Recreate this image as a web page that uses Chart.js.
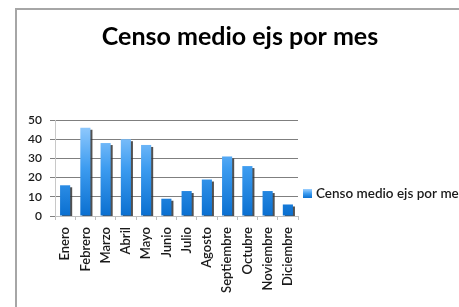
<!DOCTYPE html>
<html>
<head>
<meta charset="utf-8">
<script src="https://cdn.jsdelivr.net/npm/chart.js@4.4.0/dist/chart.umd.min.js"></script>
<style>
  html, body { margin: 0; padding: 0; background: #fff; }
  #wrap { position: relative; width: 459px; height: 307px; }
</style>
</head>
<body>
<div id="wrap"><canvas id="censoChart" width="459" height="307"></canvas></div>
<script>
// Datos del grafico
const titulo = 'Censo medio ejs por mes';
const meses = ['Enero', 'Febrero', 'Marzo', 'Abril', 'Mayo', 'Junio', 'Julio', 'Agosto', 'Septiembre', 'Octubre', 'Noviembre', 'Diciembre'];
const censo = [16, 46, 38, 40, 37, 9, 13, 19, 31, 26, 13, 6];
const yMin = 0;
const yMax = 50;
const yPaso = 10;

// degradado azul de arriba (claro) a abajo (oscuro)
function degradado(ctx, top, bottom) {
    const g = ctx.createLinearGradient(0, top, 0, bottom);
    g.addColorStop(0, '#9dd0ff');
    g.addColorStop(0.5, '#3d9cf0');
    g.addColorStop(1, '#0a6fd0');
    return g;
}

// marco gris y titulo
const marco = {
    id: 'marco',
    beforeDraw(chart) {
        const c = chart.ctx;
        c.save();
        c.fillStyle = '#fff';
        c.fillRect(0, 0, chart.width, chart.height);
        c.strokeStyle = '#a6a6a6';
        c.lineWidth = 2;
        c.strokeRect(16, 9, chart.width, chart.height);
        c.fillStyle = '#000';
        c.font = 'bold 25px Lato';
        c.textAlign = 'center';
        c.textBaseline = 'alphabetic';
        c.fillText(titulo, 240, 45);
        c.restore();
    }
};

// sombra a la derecha de las barras
const sombra = {
    id: 'sombra',
    beforeDatasetsDraw(chart) {
        const c = chart.ctx;
        c.save();
        c.shadowColor = 'rgba(50,50,50,0.85)';
        c.shadowOffsetX = 2;
        c.shadowOffsetY = 2;
        c.shadowBlur = 0;
    },
    afterDatasetsDraw(chart) {
        chart.ctx.restore();
    }
};

// leyenda a la derecha (se corta en el borde como en el original)
const leyenda = {
    id: 'leyenda',
    afterDraw(chart) {
        const c = chart.ctx;
        const x = 303, y = 189;
        c.save();
        c.fillStyle = degradado(c, y, y + 9);
        c.fillRect(x, y, 9, 9);
        c.fillStyle = '#1a1a1a';
        c.font = '600 13.5px Lato';
        c.textBaseline = 'middle';
        c.fillText(chart.data.datasets[0].label, x + 13, y + 5);
        c.restore();
    }
};

const ctx = document.getElementById('censoChart').getContext('2d');
const censoChart = new Chart(ctx, {
    type: 'bar',
    data: {
        labels: meses,
        datasets: [{
            label: titulo,
            data: censo,
            backgroundColor: function(context) {
                const area = context.chart.chartArea;
                if (!area) return '#3d9cf0';
                return degradado(context.chart.ctx, area.top, area.bottom);
            },
            borderWidth: 0,
            barPercentage: 0.5,
            categoryPercentage: 1.0
        }]
    },
    options: {
        responsive: false,
        animation: false,
        layout: {
            padding: { left: 16, right: 161, top: 120, bottom: 0 }
        },
        plugins: {
            legend: { display: false },
            tooltip: { enabled: false },
            title: { display: false }
        },
        scales: {
            x: {
                afterFit: function(scale) { scale.height = 91; },
                grid: {
                    drawOnChartArea: false,
                    drawTicks: true,
                    tickLength: 4,
                    color: '#bfbfbf'
                },
                border: { color: '#bfbfbf' },
                ticks: {
                    minRotation: 90,
                    maxRotation: 90,
                    autoSkip: false,
                    padding: 7,
                    color: '#1a1a1a',
                    font: { family: 'Lato', size: 13, weight: '600' }
                }
            },
            y: {
                min: yMin,
                max: yMax,
                afterFit: function(scale) { scale.width = 39; },
                grid: {
                    color: '#7f7f7f',
                    tickLength: 5
                },
                border: { color: '#c8c8c8' },
                ticks: {
                    stepSize: yPaso,
                    padding: 8,
                    color: '#1a1a1a',
                    font: { family: 'Lato', size: 12, weight: '600' }
                }
            }
        }
    },
    plugins: [marco, sombra, leyenda]
});
</script>
</body>
</html>
